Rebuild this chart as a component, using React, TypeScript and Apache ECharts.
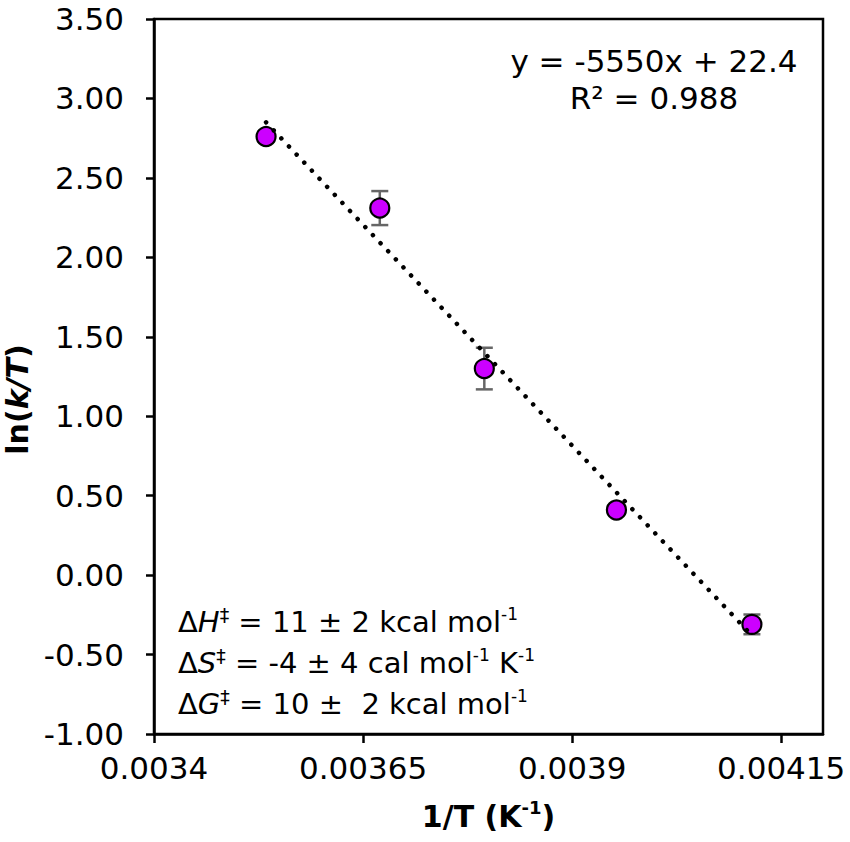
import React, { useEffect, useRef } from "react";
import * as echarts from "echarts";

// ---- data ----
const invT = [0.003534, 0.00367, 0.003795, 0.003953, 0.004115];
const lnKT = [2.76, 2.31, 1.3, 0.41, -0.31];
const errLnKT = [0.03, 0.107, 0.131, 0.03, 0.062];
const trendX = [0.003534, 0.004115];
const trendY = [2.85, -0.38];
const xTicks = [0.0034, 0.00365, 0.0039, 0.00415];
const xTickLabels = ["0.0034", "0.00365", "0.0039", "0.00415"];
const xMin = 0.0034;
const xMax = 0.0042;
const yMin = -1;
const yMax = 3.5;
const yStep = 0.5;
const eqLines = ["y = -5550x + 22.4", "R² = 0.988"];
const thermo = [
  { sym: "H", rest: " = 11 ± 2 kcal mol", tail: [{ s: "-1" }] },
  { sym: "S", rest: " = -4 ± 4 cal mol", tail: [{ s: "-1" }, { t: " K" }, { s: "-1" }] },
  { sym: "G", rest: " = 10 ±  2 kcal mol", tail: [{ s: "-1" }] },
];

const FONT = "DejaVu Sans";

export default function App() {
  const ref = useRef<HTMLDivElement>(null);

  useEffect(() => {
    if (!ref.current) return;
    const chart = echarts.init(ref.current, undefined, { renderer: "svg" });

    const errStyle = { stroke: "#666666", lineWidth: 2.5 };
    const thermoTexts = thermo.map((t, i) => {
      let txt = `{a|Δ}{i|${t.sym}}{d|‡}{a|${t.rest}}`;
      t.tail.forEach((p: any) => {
        if (p.s) txt += `{s|${p.s}}`;
        else txt += `{a|${p.t}}`;
      });
      return {
        type: "text",
        left: 178,
        top: 605 + i * 41,
        style: {
          text: txt,
          fill: "#000",
          rich: {
            a: { fontFamily: FONT, fontSize: 29, lineHeight: 34, fill: "#000" },
            i: { fontFamily: FONT, fontSize: 29, lineHeight: 34, fontStyle: "italic", fill: "#000" },
            d: { fontFamily: FONT, fontSize: 19, lineHeight: 22, verticalAlign: "top", fill: "#000" },
            s: { fontFamily: FONT, fontSize: 17, lineHeight: 20, verticalAlign: "top", fill: "#000" },
          },
        },
      };
    });

    const option: any = {
      animation: false,
      backgroundColor: "#ffffff",
      grid: {
        left: 154,
        right: 27,
        top: 19,
        bottom: 108,
        show: true,
        borderColor: "#000",
        borderWidth: 2.5,
        containLabel: false,
        outerBoundsMode: "none",
      },
      xAxis: {
        type: "value",
        min: xMin,
        max: xMax,
        axisLine: { show: true, onZero: false, lineStyle: { color: "#000", width: 2.5 } },
        axisTick: {
          show: true,
          customValues: xTicks,
          length: 9,
          lineStyle: { color: "#000", width: 2.5 },
        },
        axisLabel: {
          customValues: xTicks,
          formatter: (v: number) => {
            const k = xTicks.findIndex((t) => Math.abs(t - v) < 1e-9);
            return k >= 0 ? xTickLabels[k] : "";
          },
          fontFamily: FONT,
          fontSize: 31,
          color: "#000",
          margin: 18,
        },
        splitLine: { show: false },
        name: "{b|1/T (K}{s|-1}{b|)}",
        nameLocation: "middle",
        nameGap: 64,
        nameTextStyle: {
          rich: {
            b: { fontFamily: FONT, fontSize: 30, fontWeight: "bold", lineHeight: 36, color: "#000" },
            s: { fontFamily: FONT, fontSize: 18, fontWeight: "bold", lineHeight: 22, verticalAlign: "top", color: "#000" },
          },
        },
      },
      yAxis: {
        type: "value",
        min: yMin,
        max: yMax,
        interval: yStep,
        axisLine: { show: true, onZero: false, lineStyle: { color: "#000", width: 2.5 } },
        axisTick: { show: true, length: 8, lineStyle: { color: "#000", width: 2.5 } },
        axisLabel: {
          formatter: (v: number) => v.toFixed(2),
          fontFamily: FONT,
          fontSize: 31,
          color: "#000",
          margin: 30,
        },
        splitLine: { show: false },
        name: "{b|ln(}{bi|k/T}{b|)}",
        nameLocation: "middle",
        nameGap: 118,
        nameTextStyle: {
          padding: [0, 46, 0, 0],
          rich: {
            b: { fontFamily: FONT, fontSize: 30, fontWeight: "bold", lineHeight: 34, color: "#000" },
            bi: { fontFamily: FONT, fontSize: 30, fontWeight: "bold", fontStyle: "italic", lineHeight: 34, color: "#000" },
          },
        },
      },
      series: [
        {
          type: "custom",
          z: 1,
          data: invT.map((x, i) => [x, lnKT[i], errLnKT[i]]),
          encode: { x: 0, y: 1 },
          renderItem: (params: any, api: any) => {
            const x = api.value(0);
            const y = api.value(1);
            const e = api.value(2);
            const top = api.coord([x, y + e]);
            const bot = api.coord([x, y - e]);
            const hw = 8.5;
            return {
              type: "group",
              children: [
                { type: "line", shape: { x1: top[0], y1: top[1], x2: bot[0], y2: bot[1] }, style: errStyle },
                { type: "line", shape: { x1: top[0] - hw, y1: top[1], x2: top[0] + hw, y2: top[1] }, style: errStyle },
                { type: "line", shape: { x1: bot[0] - hw, y1: bot[1], x2: bot[0] + hw, y2: bot[1] }, style: errStyle },
              ],
            };
          },
        },
        {
          type: "scatter",
          z: 2,
          data: invT.map((x, i) => [x, lnKT[i]]),
          symbol: "circle",
          symbolSize: 19,
          itemStyle: { color: "#CC00FF", borderColor: "#000", borderWidth: 2.2, opacity: 1 },
        },
        {
          type: "line",
          z: 3,
          data: trendX.map((x, i) => [x, trendY[i]]),
          symbol: "none",
          showSymbol: false,
          lineStyle: { color: "#000", width: 4.5, type: [0.1, 11], cap: "round" },
        },
      ],
      graphic: [
        {
          type: "text",
          x: 654,
          y: 79,
          style: {
            text: eqLines.join("\n"),
            fontFamily: FONT,
            fontSize: 31,
            lineHeight: 37,
            fill: "#000",
            align: "center",
            verticalAlign: "middle",
          },
        },
        ...thermoTexts,
      ],
    };

    chart.setOption(option);
    return () => chart.dispose();
  }, []);

  return (
    <div
      ref={ref}
      style={{ position: "fixed", left: 0, top: 0, width: 850, height: 842, background: "#fff" }}
    />
  );
}
